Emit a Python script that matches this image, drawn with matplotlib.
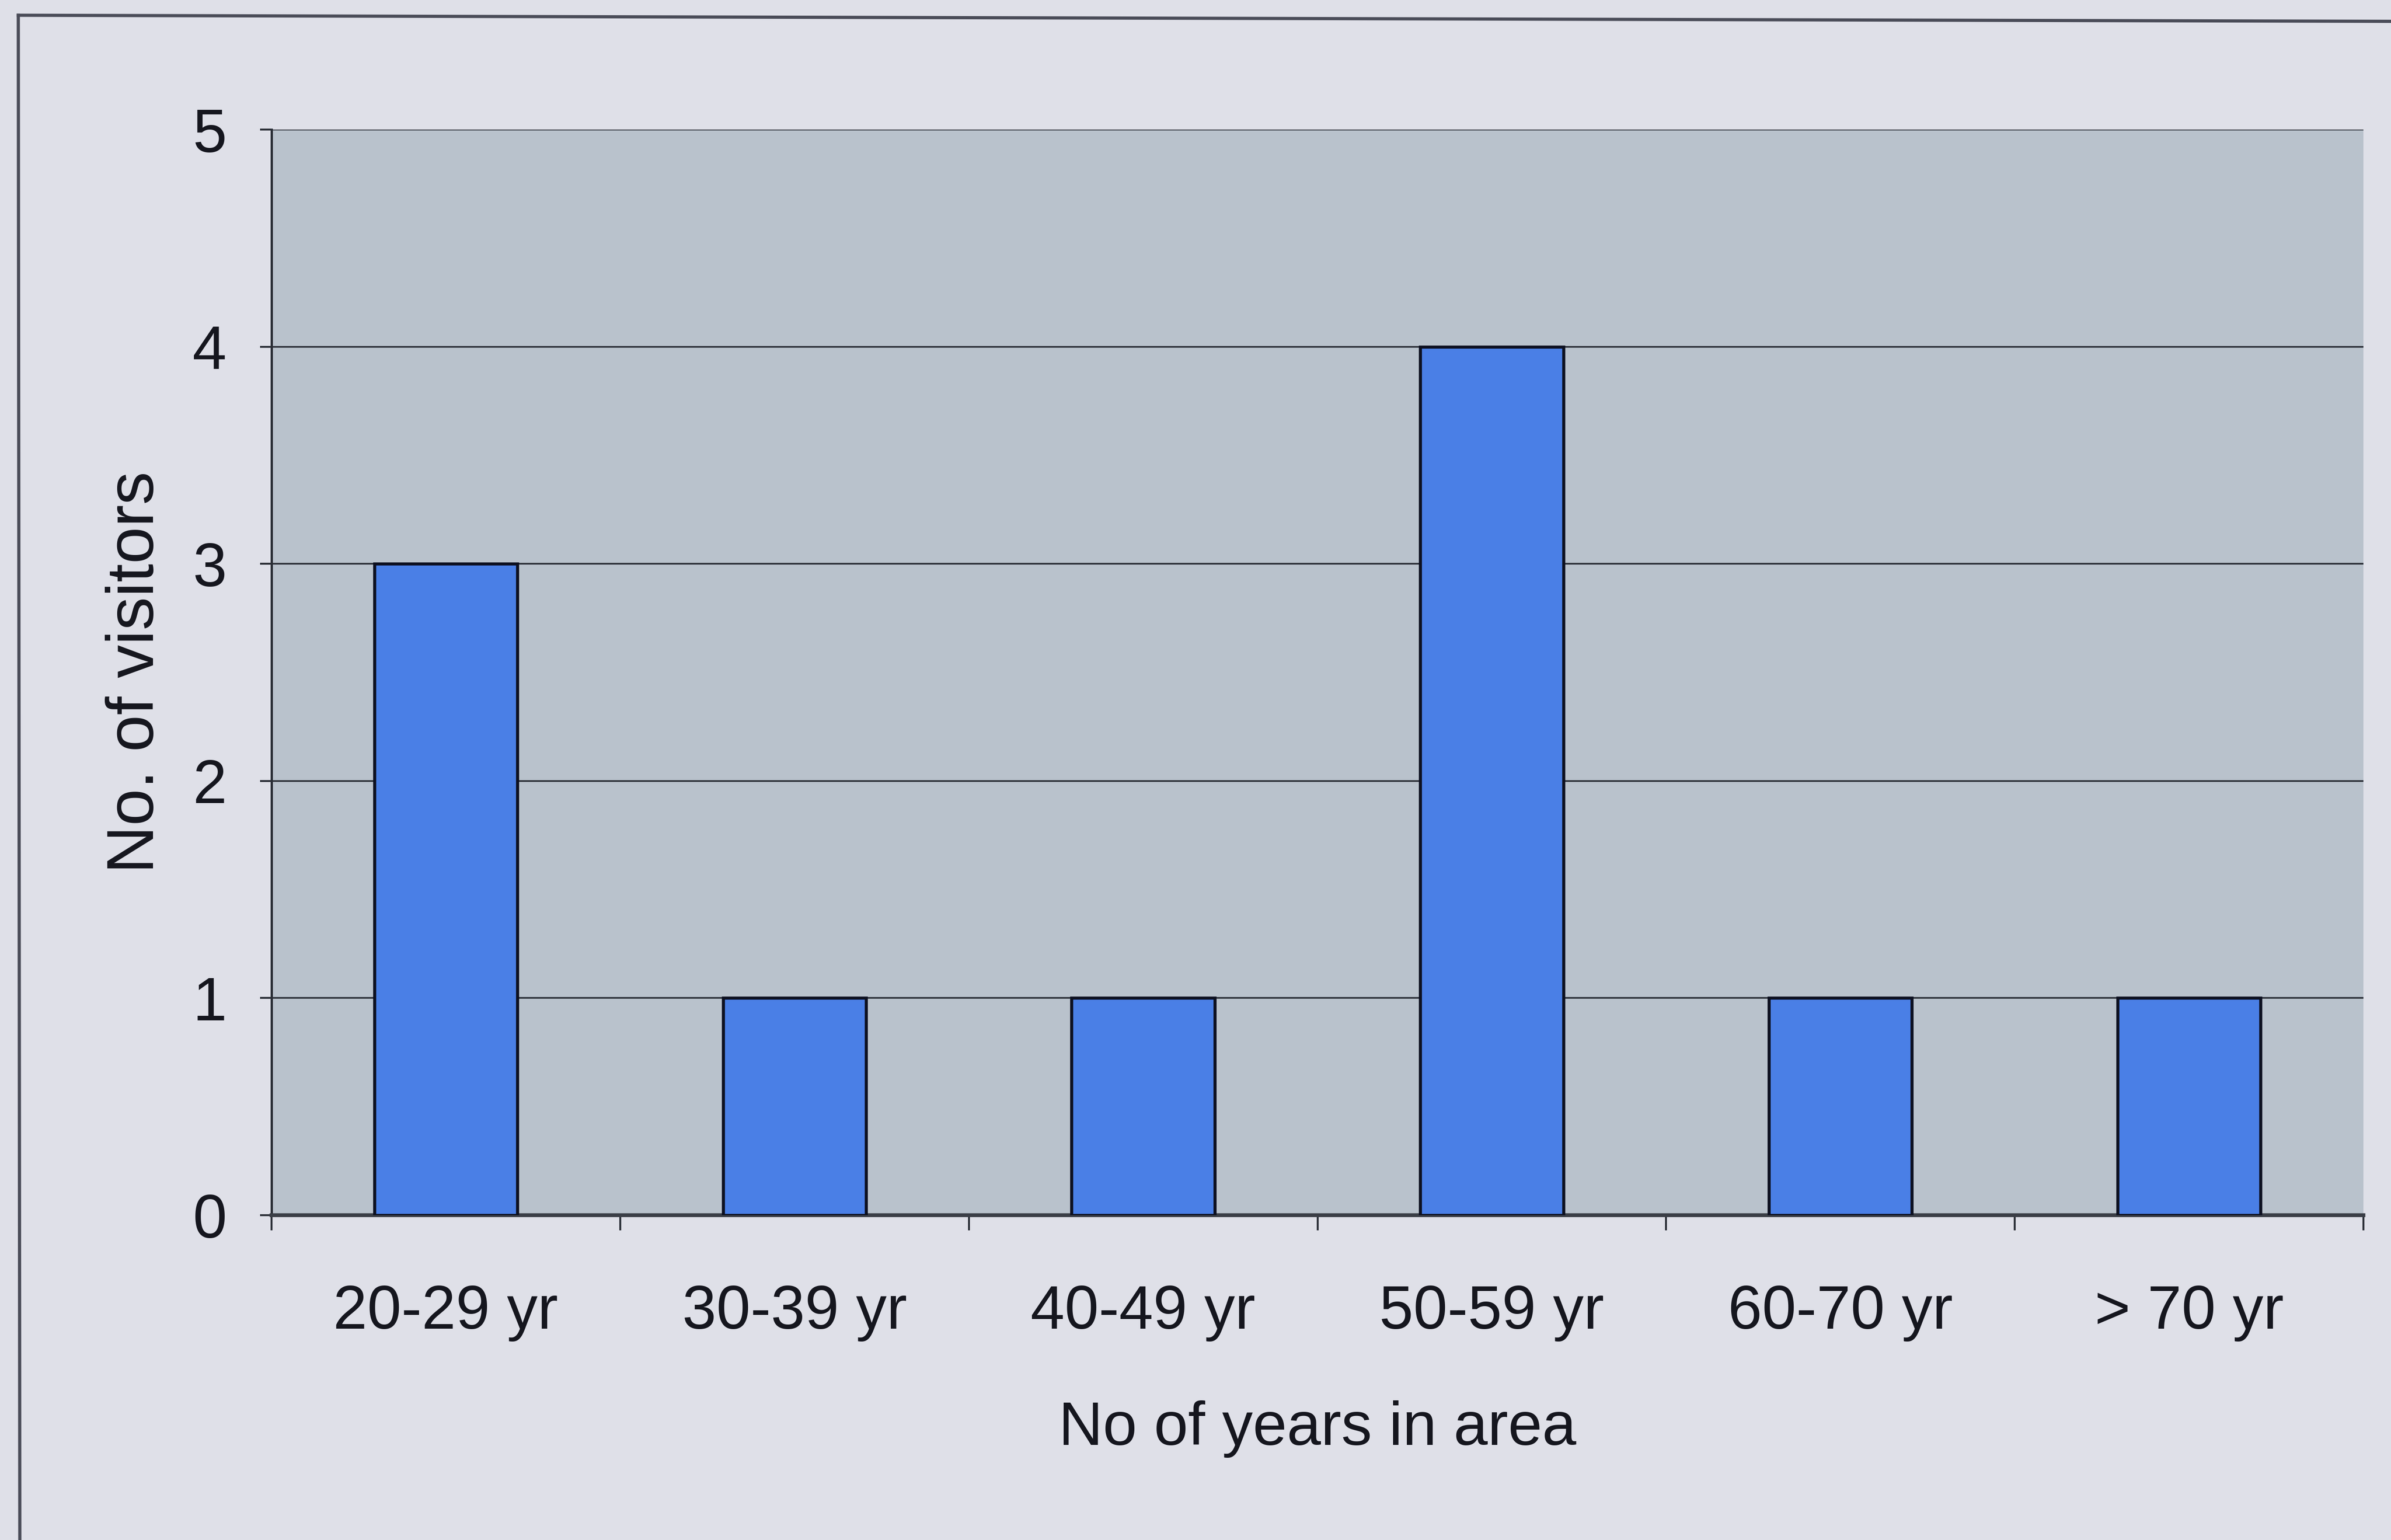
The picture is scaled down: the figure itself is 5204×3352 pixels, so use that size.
import matplotlib
matplotlib.use("Agg")
import matplotlib.pyplot as plt
from matplotlib.lines import Line2D
import numpy as np

categories = ["20-29 yr", "30-39 yr", "40-49 yr", "50-59 yr", "60-70 yr", "> 70 yr"]
visitors = [3, 1, 1, 4, 1, 1]
y_ticks = [0, 1, 2, 3, 4, 5]

plt.rcParams['font.family'] = ['Liberation Sans', 'DejaVu Sans']

W, H = 1568.0, 1010.0
fig = plt.figure(figsize=(26.02, 16.76), dpi=200)
fig.patch.set_facecolor('#dfe0e8')

ax = fig.add_axes([178 / W, 1 - 797 / H, (1550 - 178) / W, (797 - 85) / H])
ax.set_facecolor('#b9c2cc')

x = np.arange(len(categories))
ax.bar(x, visitors, width=0.41, color='#4a7fe6', edgecolor='#0d1020',
       linewidth=2.4, zorder=3)

ax.set_xlim(-0.5, len(categories) - 0.5)
ax.set_ylim(0, 5)
ax.set_yticks(y_ticks)
ax.yaxis.grid(True, color='#2a2e36', linewidth=1.3, zorder=1)
ax.set_axisbelow(True)

ax.set_xticks(x)
ax.set_xticklabels(categories)
ax.set_xticks(np.arange(len(categories) + 1) - 0.5, minor=True)
ax.tick_params(axis='x', which='major', length=0, pad=54, labelsize=48,
               labelcolor='#15161e')
ax.tick_params(axis='x', which='minor', length=12, width=1.5, color='#2a2e36')
ax.tick_params(axis='y', which='major', length=9, width=1.5, color='#2a2e36',
               pad=26, labelsize=48, labelcolor='#15161e')

for side in ['top', 'right']:
    ax.spines[side].set_visible(False)
ax.spines['left'].set_color('#2a2e36')
ax.spines['left'].set_linewidth(1.8)
ax.spines['bottom'].set_color('#3a3e46')
ax.spines['bottom'].set_linewidth(3)

ax.set_xlabel("No of years in area", fontsize=48, color='#15161e', labelpad=46)
ax.set_ylabel("No. of visitors", fontsize=52, color='#15161e', labelpad=20)

# outer chart frame (only top and left edges fall inside the image)
fig.add_artist(Line2D([12 / W, 1.0], [1 - 10 / H, 1 - 14 / H],
                      transform=fig.transFigure, color='#4a4c58', linewidth=2.5))
fig.add_artist(Line2D([12 / W, 13 / W], [1 - 10 / H, 0.0],
                      transform=fig.transFigure, color='#4a4c58', linewidth=2.5))

fig.savefig("out.png", dpi=200, facecolor=fig.get_facecolor())
